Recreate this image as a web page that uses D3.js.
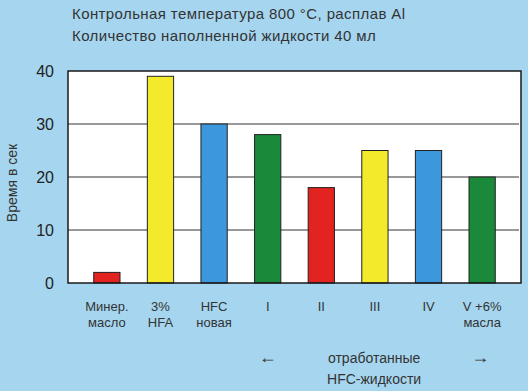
<!DOCTYPE html>
<html>
<head>
<meta charset="utf-8">
<script src="https://cdn.jsdelivr.net/npm/d3@7"></script>
<style>
  body { margin: 0; background: #a6d6ef; }
  svg { display: block; }
</style>
</head>
<body>
<script>
// данные
var categories = ["Минер. масло", "3% HFA", "HFC новая", "I", "II", "III", "IV", "V +6% масла"];
var line1 = ["Минер.", "3%", "HFC", "I", "II", "III", "IV", "V +6%"];
var line2 = ["масло", "HFA", "новая", "", "", "", "", "масла"];
var values = [2, 39, 30, 28, 18, 25, 25, 20];
var colors = ["#e2231f", "#f4ea2c", "#3d97dc", "#1a8a3a", "#e2231f", "#f4ea2c", "#3d97dc", "#1a8a3a"];
var yTicks = [0, 10, 20, 30, 40];
var title = ["Контрольная температура 800 °C, расплав Al", "Количество наполненной жидкости 40 мл"];

var W = 528, H = 391;
var m = { left: 68, right: 7, top: 71, bottom: 108 };

var svg = d3.select("body").append("svg")
  .attr("width", W)
  .attr("height", H);

var x = d3.scaleBand()
  .domain(categories)
  .range([m.left, W - m.right])
  .paddingInner(0.51)
  .paddingOuter(0.48);

var y = d3.scaleLinear()
  .domain([0, 40])
  .range([H - m.bottom, m.top]);

// белое поле графика
svg.append("rect")
  .attr("x", m.left)
  .attr("y", m.top)
  .attr("width", W - m.right - m.left)
  .attr("height", y(0) - m.top)
  .attr("fill", "#ffffff");

// сетка
svg.append("g")
  .selectAll("line")
  .data(yTicks.slice(1, 4))
  .enter()
  .append("line")
  .attr("x1", m.left)
  .attr("x2", W - m.right - 2)
  .attr("y1", function(d) { return y(d); })
  .attr("y2", function(d) { return y(d); })
  .attr("stroke", "#333")
  .attr("stroke-width", 1);

// столбики
svg.append("g")
  .selectAll("rect")
  .data(values)
  .enter()
  .append("rect")
  .attr("x", function(d, i) { return x(categories[i]); })
  .attr("y", function(d) { return y(d); })
  .attr("width", x.bandwidth())
  .attr("height", function(d) { return y(0) - y(d); })
  .attr("fill", function(d, i) { return colors[i]; })
  .attr("stroke", "#222")
  .attr("stroke-width", 1);

// рамка
svg.append("rect")
  .attr("x", m.left)
  .attr("y", m.top)
  .attr("width", W - m.right - m.left)
  .attr("height", y(0) - m.top)
  .attr("fill", "none")
  .attr("stroke", "#1a1a1a")
  .attr("stroke-width", 1.5);

// ось Y
var yAxis = svg.append("g")
  .attr("transform", "translate(" + (m.left - 14) + ",0)")
  .call(d3.axisLeft(y).tickValues(yTicks).tickSize(0).tickPadding(0));
yAxis.select(".domain").remove();
yAxis.selectAll("text")
  .attr("font-family", "Liberation Sans, Arial, sans-serif")
  .attr("font-size", 16)
  .attr("fill", "#222");

svg.append("text")
  .attr("transform", "translate(17," + ((m.top + y(0)) / 2 + 6) + ") rotate(-90)")
  .attr("text-anchor", "middle")
  .attr("font-family", "Liberation Sans, Arial, sans-serif")
  .attr("font-size", 14)
  .attr("fill", "#333")
  .text("Время в сек");

// подписи категорий
var lab = svg.append("g")
  .attr("font-family", "Liberation Sans, Arial, sans-serif")
  .attr("font-size", 13)
  .attr("fill", "#333")
  .attr("text-anchor", "middle");

lab.selectAll("text.l1")
  .data(categories)
  .enter()
  .append("text")
  .attr("class", "l1")
  .attr("x", function(d) { return x(d) + x.bandwidth() / 2; })
  .attr("y", y(0) + 28)
  .text(function(d, i) { return line1[i]; });

lab.selectAll("text.l2")
  .data(categories)
  .enter()
  .append("text")
  .attr("class", "l2")
  .attr("x", function(d) { return x(d) + x.bandwidth() / 2; })
  .attr("y", y(0) + 44)
  .text(function(d, i) { return line2[i]; });

// отработанные жидкости
var midX = (x("III") + x.bandwidth() / 2 + x("II") + x.bandwidth() / 2) / 2;
lab.append("text")
  .attr("x", x("I") + x.bandwidth() / 2)
  .attr("y", 363)
  .attr("font-size", 18)
  .text("←");
lab.append("text")
  .attr("x", x(categories[7]) + x.bandwidth() / 2 - 2)
  .attr("y", 363)
  .attr("font-size", 18)
  .text("→");
lab.append("text")
  .attr("x", midX + 26)
  .attr("y", 363)
  .attr("font-size", 14)
  .text("отработанные");
lab.append("text")
  .attr("x", midX + 26)
  .attr("y", 384)
  .attr("font-size", 14)
  .text("HFC-жидкости");

// заголовок
svg.append("g")
  .selectAll("text")
  .data(title)
  .enter()
  .append("text")
  .attr("x", 72)
  .attr("y", function(d, i) { return 19 + i * 22; })
  .attr("font-family", "Liberation Sans, Arial, sans-serif")
  .attr("font-size", 15)
  .attr("letter-spacing", 0.4)
  .attr("fill", "#333")
  .text(function(d) { return d; });
</script>
</body>
</html>
